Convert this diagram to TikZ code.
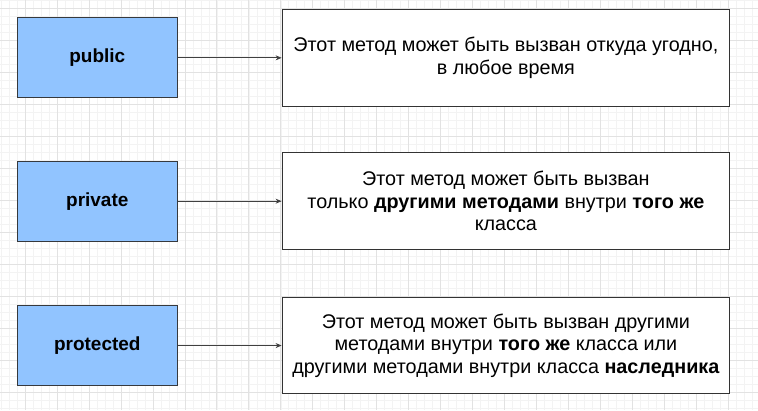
\documentclass[tikz,border=0pt]{standalone}
\usepackage{fontspec}
\setmainfont{Liberation Sans}
\usetikzlibrary{arrows.meta}
\definecolor{accblue}{RGB}{145,196,255}
\definecolor{accedge}{RGB}{54,57,61}
\definecolor{gridminor}{RGB}{243,243,243}
\definecolor{gridmajor}{RGB}{226,226,226}

\begin{document}
\begin{tikzpicture}[x=1pt,y=-1pt,
  modbox/.style={rectangle, draw=accedge, fill=accblue, line width=1pt, minimum width=160pt, minimum height=80pt, inner sep=0pt, font=\fontsize{19}{22}\selectfont\bfseries},
  descbox/.style={rectangle, draw=black!80, fill=white, line width=1pt, minimum width=448pt, minimum height=97pt, inner sep=0pt, align=center, font=\fontsize{19.8}{22.5}\selectfont},
  link/.style={draw=black!75, line width=0.8pt, -{Stealth[length=6pt,width=5pt]}}]

 % background and grid
 \fill[white] (0,0) rectangle (758,410);
 \foreach \gx in {0.7,8.7,...,758} \draw[gridminor, line width=0.6pt] (\gx,0) -- (\gx,410);
 \foreach \gy in {0.3,8.3,...,410} \draw[gridminor, line width=0.6pt] (0,\gy) -- (758,\gy);
 \foreach \gx in {24.7,56.7,...,758} \draw[gridmajor, line width=0.8pt] (\gx,0) -- (\gx,410);
 \foreach \gy in {8.3,40.3,...,410} \draw[gridmajor, line width=0.8pt] (0,\gy) -- (758,\gy);
 \useasboundingbox (0,0) rectangle (758,410);

 % public
 \node[modbox] (public) at (97,57.5) {public};
 \node[descbox] (publicdesc) at (506,57.5) {Этот метод может быть вызван откуда угодно,\\ в любое время};
 \draw[link] (public) -- (publicdesc);

 % private
 \node[modbox] (private) at (97,201) {private};
 \node[descbox] (privatedesc) at (506,201) {Этот метод может быть вызван\\ только \textbf{другими методами} внутри \textbf{того же}\\ класса};
 \draw[link] (private) -- (privatedesc);

 % protected
 \node[modbox] (protected) at (97,345.5) {protected};
 \node[descbox] (protecteddesc) at (506,345.5) {Этот метод может быть вызван другими\\ методами внутри \textbf{того же} класса или\\ другими методами внутри класса \textbf{наследника}};
 \draw[link] (protected) -- (protecteddesc);

\end{tikzpicture}
\end{document}
